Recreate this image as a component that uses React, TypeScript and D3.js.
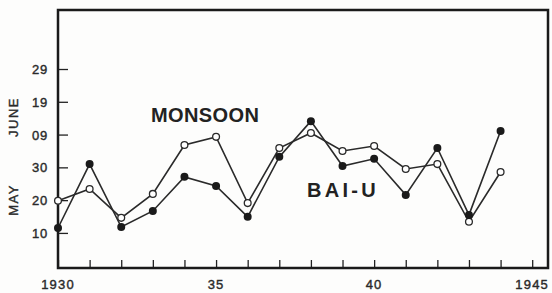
import React, { useEffect, useRef } from 'react';
import * as d3 from 'd3';

// days counted from April 30 (May 10 = 10, June 9 = 40)
const years = [1930, 1931, 1932, 1933, 1934, 1935, 1936, 1937, 1938, 1939, 1940, 1941, 1942, 1943, 1944];
const monsoon = [19.8, 23.4, 14.6, 21.9, 36.8, 39.3, 19.1, 35.9, 40.5, 35.0, 36.5, 29.5, 31.0, 13.4, 28.6];
const baiu = [11.5, 31.0, 11.8, 16.7, 27.1, 24.3, 14.9, 33.2, 44.1, 30.4, 32.6, 21.6, 35.9, 15.5, 41.1];

const yTicks = [10, 20, 30, 40, 50, 60];
const yTickLabels = ['10', '20', '30', '09', '19', '29'];
const xTicks = d3.range(1930, 1946);
const xTickLabels: Record<number, string> = { 1930: '1930', 1935: '35', 1940: '40', 1945: '1945' };

function App() {
  const ref = useRef<SVGSVGElement>(null);

  useEffect(() => {
    const width = 552;
    const height = 293;
    const margin = { top: 10, right: 4, bottom: 25, left: 58 };
    const font = '"Liberation Sans", Arial, sans-serif';
    const ink = '#2a2a2a';

    const x = d3.scaleLinear()
      .domain([1930, 1945.5])
      .range([margin.left, width - margin.right]);

    const y = d3.scaleLinear()
      .domain([-0.7, 78])
      .range([height - margin.bottom, margin.top]);

    const svg = d3.select(ref.current);
    svg.selectAll('*').remove();

    svg.append('rect')
      .attr('width', width)
      .attr('height', height)
      .attr('fill', '#fdfdfc');

    // x axis, ticks point inward
    const xAxis = svg.append('g')
      .attr('transform', `translate(0,${y.range()[0]})`)
      .call(d3.axisBottom(x).tickValues(xTicks).tickSize(-8).tickSizeOuter(0).tickFormat(() => ''));
    xAxis.select('.domain').remove();
    xAxis.selectAll('line').attr('stroke', '#222').attr('stroke-width', 1.3);

    svg.append('g')
      .selectAll('text')
      .data(xTicks.filter((t) => xTickLabels[t]))
      .join('text')
      .attr('x', (d) => x(d))
      .attr('y', 289)
      .attr('text-anchor', 'middle')
      .attr('font-family', font)
      .attr('font-size', 13)
      .attr('letter-spacing', 1.2)
      .attr('fill', ink)
      .attr('stroke', ink)
      .attr('stroke-width', 0.4)
      .text((d) => xTickLabels[d]);

    // y axis, ticks point inward
    const yAxis = svg.append('g')
      .attr('transform', `translate(${margin.left},0)`)
      .call(d3.axisLeft(y).tickValues(yTicks).tickSize(-10).tickSizeOuter(0).tickFormat(() => ''));
    yAxis.select('.domain').remove();
    yAxis.selectAll('line').attr('stroke', '#222').attr('stroke-width', 1.3);

    svg.append('g')
      .selectAll('text')
      .data(yTicks)
      .join('text')
      .attr('x', 48)
      .attr('y', (d) => y(d) + 5)
      .attr('text-anchor', 'end')
      .attr('font-family', font)
      .attr('font-size', 13)
      .attr('letter-spacing', 0.8)
      .attr('fill', ink)
      .attr('stroke', ink)
      .attr('stroke-width', 0.4)
      .text((d, i) => yTickLabels[i]);

    [['MAY', 200], ['JUNE', 117]].forEach(([label, cy]) => {
      svg.append('text')
        .attr('transform', `translate(18,${cy}) rotate(-90)`)
        .attr('text-anchor', 'middle')
        .attr('font-family', font)
        .attr('font-size', 13)
        .attr('letter-spacing', 1.5)
        .attr('fill', ink)
        .attr('stroke', ink)
        .attr('stroke-width', 0.4)
        .text(label as string);
    });

    // frame
    svg.append('rect')
      .attr('x', margin.left)
      .attr('y', margin.top)
      .attr('width', x.range()[1] - margin.left)
      .attr('height', y.range()[0] - margin.top)
      .attr('fill', 'none')
      .attr('stroke', '#1a1a1a')
      .attr('stroke-width', 2.5);

    const line = d3.line<number>()
      .x((d, i) => x(years[i]))
      .y((d) => y(d));

    [monsoon, baiu].forEach((series) => {
      svg.append('path')
        .datum(series)
        .attr('d', line)
        .attr('fill', 'none')
        .attr('stroke', ink)
        .attr('stroke-width', 1.6);
    });

    svg.append('g')
      .selectAll('circle')
      .data(monsoon)
      .join('circle')
      .attr('cx', (d, i) => x(years[i]))
      .attr('cy', (d) => y(d))
      .attr('r', 3.4)
      .attr('fill', '#fff')
      .attr('stroke', ink)
      .attr('stroke-width', 1.3);

    svg.append('g')
      .selectAll('circle')
      .data(baiu)
      .join('circle')
      .attr('cx', (d, i) => x(years[i]))
      .attr('cy', (d) => y(d))
      .attr('r', 4)
      .attr('fill', '#1a1a1a');

    svg.append('text')
      .attr('x', 151)
      .attr('y', 122)
      .attr('font-family', font)
      .attr('font-weight', 'bold')
      .attr('font-size', 20)
      .attr('letter-spacing', 0.4)
      .attr('fill', '#222')
      .text('MONSOON');

    svg.append('text')
      .attr('x', 307)
      .attr('y', 197)
      .attr('font-family', font)
      .attr('font-weight', 'bold')
      .attr('font-size', 20)
      .attr('letter-spacing', 3.3)
      .attr('fill', '#222')
      .text('BAI-U');
  }, []);

  return (
    <svg
      ref={ref}
      width={552}
      height={293}
      style={{ position: 'absolute', left: 0, top: 0, display: 'block' }}
    />
  );
}

export default App;
